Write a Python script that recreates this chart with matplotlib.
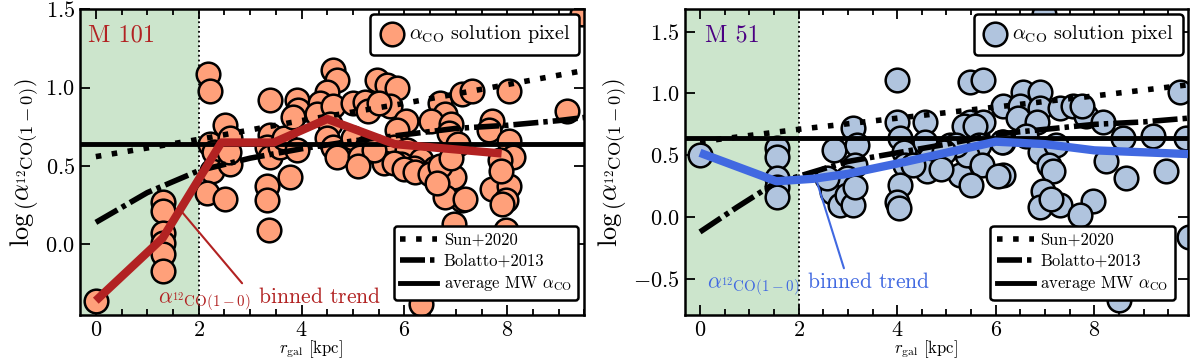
import matplotlib
matplotlib.use("Agg")
import matplotlib.pyplot as plt
from matplotlib.ticker import MultipleLocator

plt.rcParams['font.family'] = 'serif'
plt.rcParams['font.serif'] = ['cmr10']
plt.rcParams['mathtext.fontset'] = 'cm'
plt.rcParams['axes.formatter.use_mathtext'] = True
plt.rcParams['axes.linewidth'] = 1.8

# ---- M 101 pixels (r_gal [kpc], log alpha_CO) ----
m101_r = [0.0,
          1.31, 1.31, 1.31, 1.31, 1.31, 1.31,
          2.19, 2.22, 2.22, 2.29, 2.26, 2.16, 2.52, 2.52, 2.61, 2.61, 2.58,
          3.39, 3.33, 3.39, 3.59, 3.65, 3.33, 3.33, 3.36, 3.78, 3.39,
          3.91, 3.94, 3.84, 3.91,
          4.62, 4.69, 4.49, 4.36, 4.30, 4.62, 4.56, 4.49, 4.62, 4.88, 4.69, 5.01,
          5.27, 5.14, 5.01, 5.24, 5.47,
          5.66, 5.86, 5.72, 6.03, 5.86, 5.80, 6.06, 6.33, 5.93, 6.19, 6.59, 6.69,
          6.79, 6.52, 6.91, 7.12, 7.32, 6.86, 7.05, 6.86, 6.96, 7.12, 6.96, 7.71,
          7.65, 8.04, 8.04, 8.11, 7.85, 7.71, 8.04, 7.98, 7.98, 6.33, 9.17, 9.45,
          5.30, 5.50, 5.60, 5.40, 5.10, 5.80, 6.00, 6.20, 6.50, 6.70, 6.90, 6.78,
          6.63, 7.18, 7.89, 7.87]
m101_alpha = [-0.36,
              0.27, 0.21, 0.07, 0.01, -0.06, -0.17,
              1.09, 0.98, 0.64, 0.59, 0.47, 0.33, 0.29, 0.76, 0.68, 0.51, 0.59,
              0.70, 0.62, 0.56, 0.62, 0.68, 0.37, 0.28, 0.09, 0.43, 0.92,
              0.92, 0.86, 0.81, 0.60,
              1.11, 1.05, 0.97, 0.90, 0.83, 0.88, 0.77, 0.68, 0.62, 0.60, 0.56, 0.68,
              0.62, 0.56, 0.90, 0.91, 1.05,
              1.02, 1.00, 0.88, 0.79, 0.73, 0.62, 0.60, 0.54, 0.51, 0.49, 0.49, 0.90,
              0.83, 0.79, 0.77, 0.96, 0.98, 0.71, 0.64, 0.37, 0.43, 0.28, 0.13, 0.79,
              0.73, 0.98, 0.66, 0.56, 0.54, 0.35, 0.37, 0.28, 0.09, -0.38, 0.85, 1.47,
              0.85, 0.90, 0.52, 0.60, 0.50, 0.52, 0.48, 0.46, 0.45, 0.50, 0.55, 0.30,
              0.39, 0.29, 0.26, 0.47]

# ---- M 51 pixels ----
m51_r = [0.0,
         1.56, 1.56, 1.56, 1.56, 1.56,
         2.71, 2.68, 2.84, 3.11, 3.18, 3.15, 2.98, 2.98, 3.11, 2.57, 3.15,
         3.99, 3.99, 4.06, 4.13, 4.16, 4.06, 3.99, 4.56, 4.56, 4.67, 4.60, 4.33, 5.07,
         5.48, 5.74, 6.15, 6.55, 6.89, 6.49, 6.89, 6.45, 6.83, 7.30, 7.57, 7.84, 8.17,
         5.48, 5.74, 6.15, 6.62, 6.89, 7.23, 7.09, 7.16, 6.96, 6.89, 7.30, 7.97, 7.70,
         8.58, 9.19, 9.86, 9.73, 8.24, 8.65, 9.46, 6.15, 5.61, 5.27, 8.51, 9.93, 6.97,
         5.35, 5.58, 5.66, 5.41, 5.73, 5.50, 6.12, 5.19, 4.96, 4.88, 4.03, 6.04, 7.13,
         7.74]
m51_alpha = [0.50,
             0.56, 0.49, 0.32, 0.24, 0.16,
             0.54, 0.20, 0.10, 0.72, 0.58, 0.42, 0.32, 0.18, 0.10, 0.32, 0.24,
             1.11, 0.77, 0.64, 0.53, 0.42, 0.26, 0.12, 0.77, 0.61, 0.48, 0.37, 0.42, 0.58,
             1.09, 1.11, 0.90, 1.01, 1.01, 0.90, 0.88, 0.80, 0.77, 0.88, 0.90, 0.82, 0.77,
             0.77, 0.77, 0.61, 0.66, 0.53, 0.58, 0.42, 0.37, 0.21, 0.08, 0.10, 0.13, 0.02,
             0.64, 0.66, 0.64, 1.01, 0.45, 0.32, 0.37, 0.34, 0.48, 0.34, -0.67, -0.16, 1.64,
             0.74, 0.74, 0.58, 0.50, 0.42, 0.26, 0.61, 0.58, 0.53, 0.39, 0.07, 0.33, 0.15,
             0.90]

# ---- binned trends ----
m101_bin_r = [0.0, 1.30, 2.44, 3.46, 4.50, 5.81, 7.89]
m101_bin_alpha = [-0.36, 0.04, 0.65, 0.65, 0.80, 0.64, 0.58]
m51_bin_r = [0.0, 1.55, 2.3, 3.0, 4.2, 6.0, 7.0, 8.0, 9.9]
m51_bin_alpha = [0.52, 0.29, 0.31, 0.35, 0.45, 0.61, 0.59, 0.54, 0.51]

# ---- prescriptions ----
m101_sun_r = [0.0, 2.0, 4.0, 6.0, 8.0, 9.5]
m101_sun_alpha = [0.56, 0.67, 0.79, 0.90, 1.02, 1.11]
m101_bol_r = [0.0, 1.0, 2.0, 3.0, 4.0, 5.0, 6.0, 7.0, 8.0, 9.0, 9.5]
m101_bol_alpha = [0.14, 0.33, 0.47, 0.55, 0.61, 0.66, 0.70, 0.74, 0.76, 0.79, 0.81]
m51_sun_r = [0.0, 2.0, 4.0, 6.0, 8.0, 9.9]
m51_sun_alpha = [0.61, 0.71, 0.80, 0.89, 0.98, 1.07]
m51_bol_r = [0.0, 0.75, 1.5, 2.0, 3.0, 4.0, 5.0, 6.0, 7.0, 8.0, 9.0, 9.9]
m51_bol_alpha = [-0.12, 0.08, 0.27, 0.33, 0.45, 0.52, 0.59, 0.67, 0.71, 0.75, 0.77, 0.80]

mw_alpha = 0.64  # log(4.35)

lbl_alpha = r'$\alpha_{{}^{12}\mathrm{CO(1-0)}}$'


def draw_panel(ax, r, a, br, ba, sr, sa, blr, bla, name, name_x, name_col, pt_col,
               line_col, xlim, ylim, txt_xy, rel_x, arrow_xy, leg2_anchor, xlab_x):
    ax.axvspan(-1, 2, color='green', alpha=0.2, lw=0, zorder=0)
    ax.axvline(2, color='k', ls=':', lw=1.3, zorder=1)
    sc = ax.scatter(r, a, s=290, c=pt_col, edgecolors='k', linewidths=1.8, zorder=2,
                    label=r'$\alpha_\mathrm{CO}$ solution pixel')
    l1, = ax.plot(sr, sa, color='k', lw=4, dashes=(1, 1.9), zorder=3, label='Sun+2020')
    l2, = ax.plot(blr, bla, color='k', lw=4, dashes=(4.5, 0.9, 0.8, 0.9), zorder=3,
                  label='Bolatto+2013')
    l3 = ax.axhline(mw_alpha, color='k', lw=3.5, zorder=3,
                    label=r'average MW $\alpha_\mathrm{CO}$')
    ax.plot(br, ba, color=line_col, lw=6, zorder=4, solid_capstyle='butt')

    ax.annotate(lbl_alpha + ' binned trend', xy=arrow_xy, xytext=txt_xy,
                color=line_col, fontsize=15.5, ha='left', va='baseline', zorder=5,
                arrowprops=dict(arrowstyle='-', color=line_col, lw=1.5,
                                shrinkA=0, shrinkB=0, relpos=(rel_x, 0.9)))
    ax.text(name_x, 0.915, name, transform=ax.transAxes,
            color=name_col, fontsize=17.5, va='center', ha='left')

    ax.set_xlim(*xlim)
    ax.set_ylim(*ylim)
    ax.xaxis.set_major_locator(MultipleLocator(2))
    ax.xaxis.set_minor_locator(MultipleLocator(0.5))
    ax.yaxis.set_major_locator(MultipleLocator(0.5))
    ax.tick_params(which='both', direction='in', top=True, right=True, width=1.3)
    ax.tick_params(which='major', length=7, labelsize=16)
    ax.tick_params(which='minor', length=4)
    ax.tick_params(axis='x', pad=4)
    ax.tick_params(axis='y', pad=4)
    ax.set_xlabel(r'$r_\mathrm{gal}$ [kpc]', fontsize=12)
    ax.xaxis.set_label_coords(xlab_x, -0.078)
    ax.set_ylabel(r'$\log\left(\alpha_{{}^{12}\mathrm{CO(1-0)}}\right)$', fontsize=19,
                  labelpad=3)

    leg1 = ax.legend(handles=[sc], loc='upper right', fontsize=14.5, handlelength=1.2,
                     handletextpad=0.25, borderaxespad=0.25, fancybox=True,
                     framealpha=1, edgecolor='k', borderpad=0.45)
    leg1.get_frame().set_linewidth(1.8)
    ax.add_artist(leg1)
    leg2 = ax.legend(handles=[l1, l2, l3], loc='lower right', bbox_to_anchor=leg2_anchor,
                     fontsize=12, handlelength=2.2, handletextpad=0.4, labelspacing=0.35,
                     fancybox=True, framealpha=1, edgecolor='k', borderaxespad=0.0)
    leg2.get_frame().set_linewidth(1.8)


fig = plt.figure(figsize=(12, 3.61), dpi=100)
ax1 = fig.add_axes([0.067, 0.128, 0.42, 0.846])
ax2 = fig.add_axes([0.571, 0.128, 0.419, 0.846])

draw_panel(ax1, m101_r, m101_alpha, m101_bin_r, m101_bin_alpha,
           m101_sun_r, m101_sun_alpha, m101_bol_r, m101_bol_alpha,
           'M 101', 0.015, '#b22222', '#ffa07a', '#b22222',
           (-0.3, 9.5), (-0.45, 1.5), (1.2, -0.38), 0.4, (1.64, 0.22), (0.988, 0.048),
           0.458)
draw_panel(ax2, m51_r, m51_alpha, m51_bin_r, m51_bin_alpha,
           m51_sun_r, m51_sun_alpha, m51_bol_r, m51_bol_alpha,
           'M 51', 0.04, '#4b0082', '#b0c4de', '#4169e1',
           (-0.3, 9.9), (-0.79, 1.68), (0.15, -0.58), 0.62, (2.36, 0.30), (0.974, 0.048),
           0.478)

fig.savefig('out.png', dpi=100)
